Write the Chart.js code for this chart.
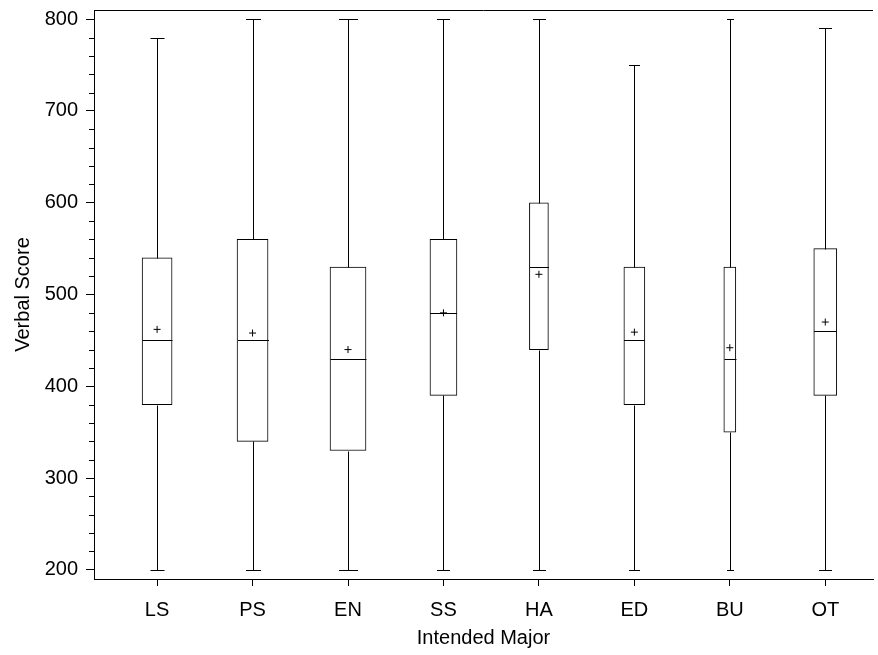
<!DOCTYPE html>
<html>
<head>
<meta charset="utf-8">
<script src="https://cdn.jsdelivr.net/npm/chart.js@4"></script>
<style>
  html, body { margin: 0; padding: 0; background: #fff; overflow: hidden; }
</style>
</head>
<body>
<canvas id="chart" width="878" height="655"></canvas>
<script>
const majors    = ["LS", "PS", "EN", "SS", "HA", "ED", "BU", "OT"];
const whiskLow  = [200, 200, 200, 200, 200, 200, 200, 200];
const q1        = [380, 340, 330, 390, 440, 380, 350, 390];
const medians   = [450, 450, 430, 480, 530, 450, 430, 460];
const q3        = [540, 560, 530, 560, 600, 530, 530, 550];
const whiskHigh = [780, 800, 800, 800, 800, 750, 800, 790];
const means     = [462, 458, 440, 480, 522, 459, 442, 470];
const yTicks    = [200, 300, 400, 500, 600, 700, 800];

// box + cap widths in px (box width follows group size in the original)
const boxWidths = [30, 31, 36, 27, 19, 21, 12, 23];
const capWidths = [14, 15, 19, 13, 13, 11, 7, 13];

const FONT = "'Liberation Sans', Arial, sans-serif";
const INK  = "#000";

// whiskers, caps, medians, minor ticks and the top frame line
const boxPlot = {
  id: "boxPlot",
  afterDatasetsDraw(chart) {
    const { ctx, scales: { x, y } } = chart;
    const px = (v) => Math.round(x.getPixelForValue(v)) + 0.5;
    const py = (v) => Math.round(y.getPixelForValue(v)) + 0.5;
    const line = (x1, y1, x2, y2) => {
      ctx.beginPath(); ctx.moveTo(x1, y1); ctx.lineTo(x2, y2); ctx.stroke();
    };
    ctx.save();
    ctx.strokeStyle = INK;
    ctx.lineWidth = 1;
    majors.forEach((m, i) => {
      const cx = px(i);
      const cw = capWidths[i] / 2, bw = boxWidths[i] / 2;
      line(cx, py(whiskLow[i]), cx, py(q1[i]));
      line(cx, py(q3[i]), cx, py(whiskHigh[i]));
      line(cx - cw, py(whiskLow[i]), cx + cw, py(whiskLow[i]));
      line(cx - cw, py(whiskHigh[i]), cx + cw, py(whiskHigh[i]));
      line(cx - bw, py(medians[i]), cx + bw, py(medians[i]));
    });
    ctx.restore();
  },
  afterDraw(chart) {
    const { ctx, chartArea, scales: { y } } = chart;
    ctx.save();
    ctx.strokeStyle = INK;
    ctx.lineWidth = 1;
    // minor ticks every 20 between the labelled ones
    for (let k = 0; k < yTicks.length - 1; k++) {
      for (let v = yTicks[k] + 20; v < yTicks[k + 1]; v += 20) {
        const yy = Math.round(y.getPixelForValue(v)) + 0.5;
        ctx.beginPath();
        ctx.moveTo(chartArea.left - 5, yy);
        ctx.lineTo(chartArea.left, yy);
        ctx.stroke();
      }
    }
    const top = Math.round(chartArea.top) + 0.5;
    ctx.beginPath();
    ctx.moveTo(chartArea.left, top);
    ctx.lineTo(chartArea.right, top);
    ctx.stroke();
    ctx.restore();
  }
};

const boxSets = majors.map((m, i) => ({
  type: "bar",
  label: m,
  data: [{ x: i, y: [q1[i], q3[i]] }],
  barThickness: boxWidths[i],
  grouped: false,
  backgroundColor: "#fff",
  borderColor: INK,
  borderWidth: 1,
  borderSkipped: false,
  order: 2
}));

const meanSet = {
  type: "scatter",
  label: "Mean",
  data: means.map((v, i) => ({ x: i, y: v })),
  pointStyle: "cross",
  pointRadius: 3.5,
  borderColor: INK,
  borderWidth: 1,
  order: 1
};

Chart.defaults.font.family = FONT;
Chart.defaults.color = INK;

new Chart(document.getElementById("chart").getContext("2d"), {
  type: "bar",
  data: { datasets: [meanSet, ...boxSets] },
  options: {
    responsive: false,
    animation: false,
    devicePixelRatio: 1,
    layout: { padding: { left: 11, top: 10, right: 0, bottom: 5 } },
    plugins: { legend: { display: false }, tooltip: { enabled: false } },
    scales: {
      x: {
        type: "linear",
        offset: false,
        min: -0.661,
        max: 7.50,
        afterBuildTicks: (s) => { s.ticks = majors.map((m, i) => ({ value: i })); },
        afterFit: (s) => { s.height = 71; s.paddingLeft = 0; s.paddingRight = 0; },
        grid: { offset: false, drawOnChartArea: false, tickLength: 7, color: INK },
        border: { color: INK },
        ticks: { callback: (v) => majors[v], padding: 12, maxRotation: 0, color: INK, font: { size: 20 } },
        title: { display: true, text: "Intended Major", color: INK, font: { size: 20 }, padding: 0 }
      },
      y: {
        min: 190,
        max: 810,
        afterBuildTicks: (s) => { s.ticks = yTicks.map((v) => ({ value: v })); },
        afterFit: (s) => { s.width = 83; s.paddingTop = 0; s.paddingBottom = 0; },
        grid: { drawOnChartArea: false, tickLength: 8, color: INK },
        border: { color: INK },
        ticks: { padding: 8, color: INK, font: { size: 20 } },
        title: { display: true, text: "Verbal Score", color: INK, font: { size: 20 }, padding: 0 }
      }
    }
  },
  plugins: [boxPlot]
});
</script>
</body>
</html>
